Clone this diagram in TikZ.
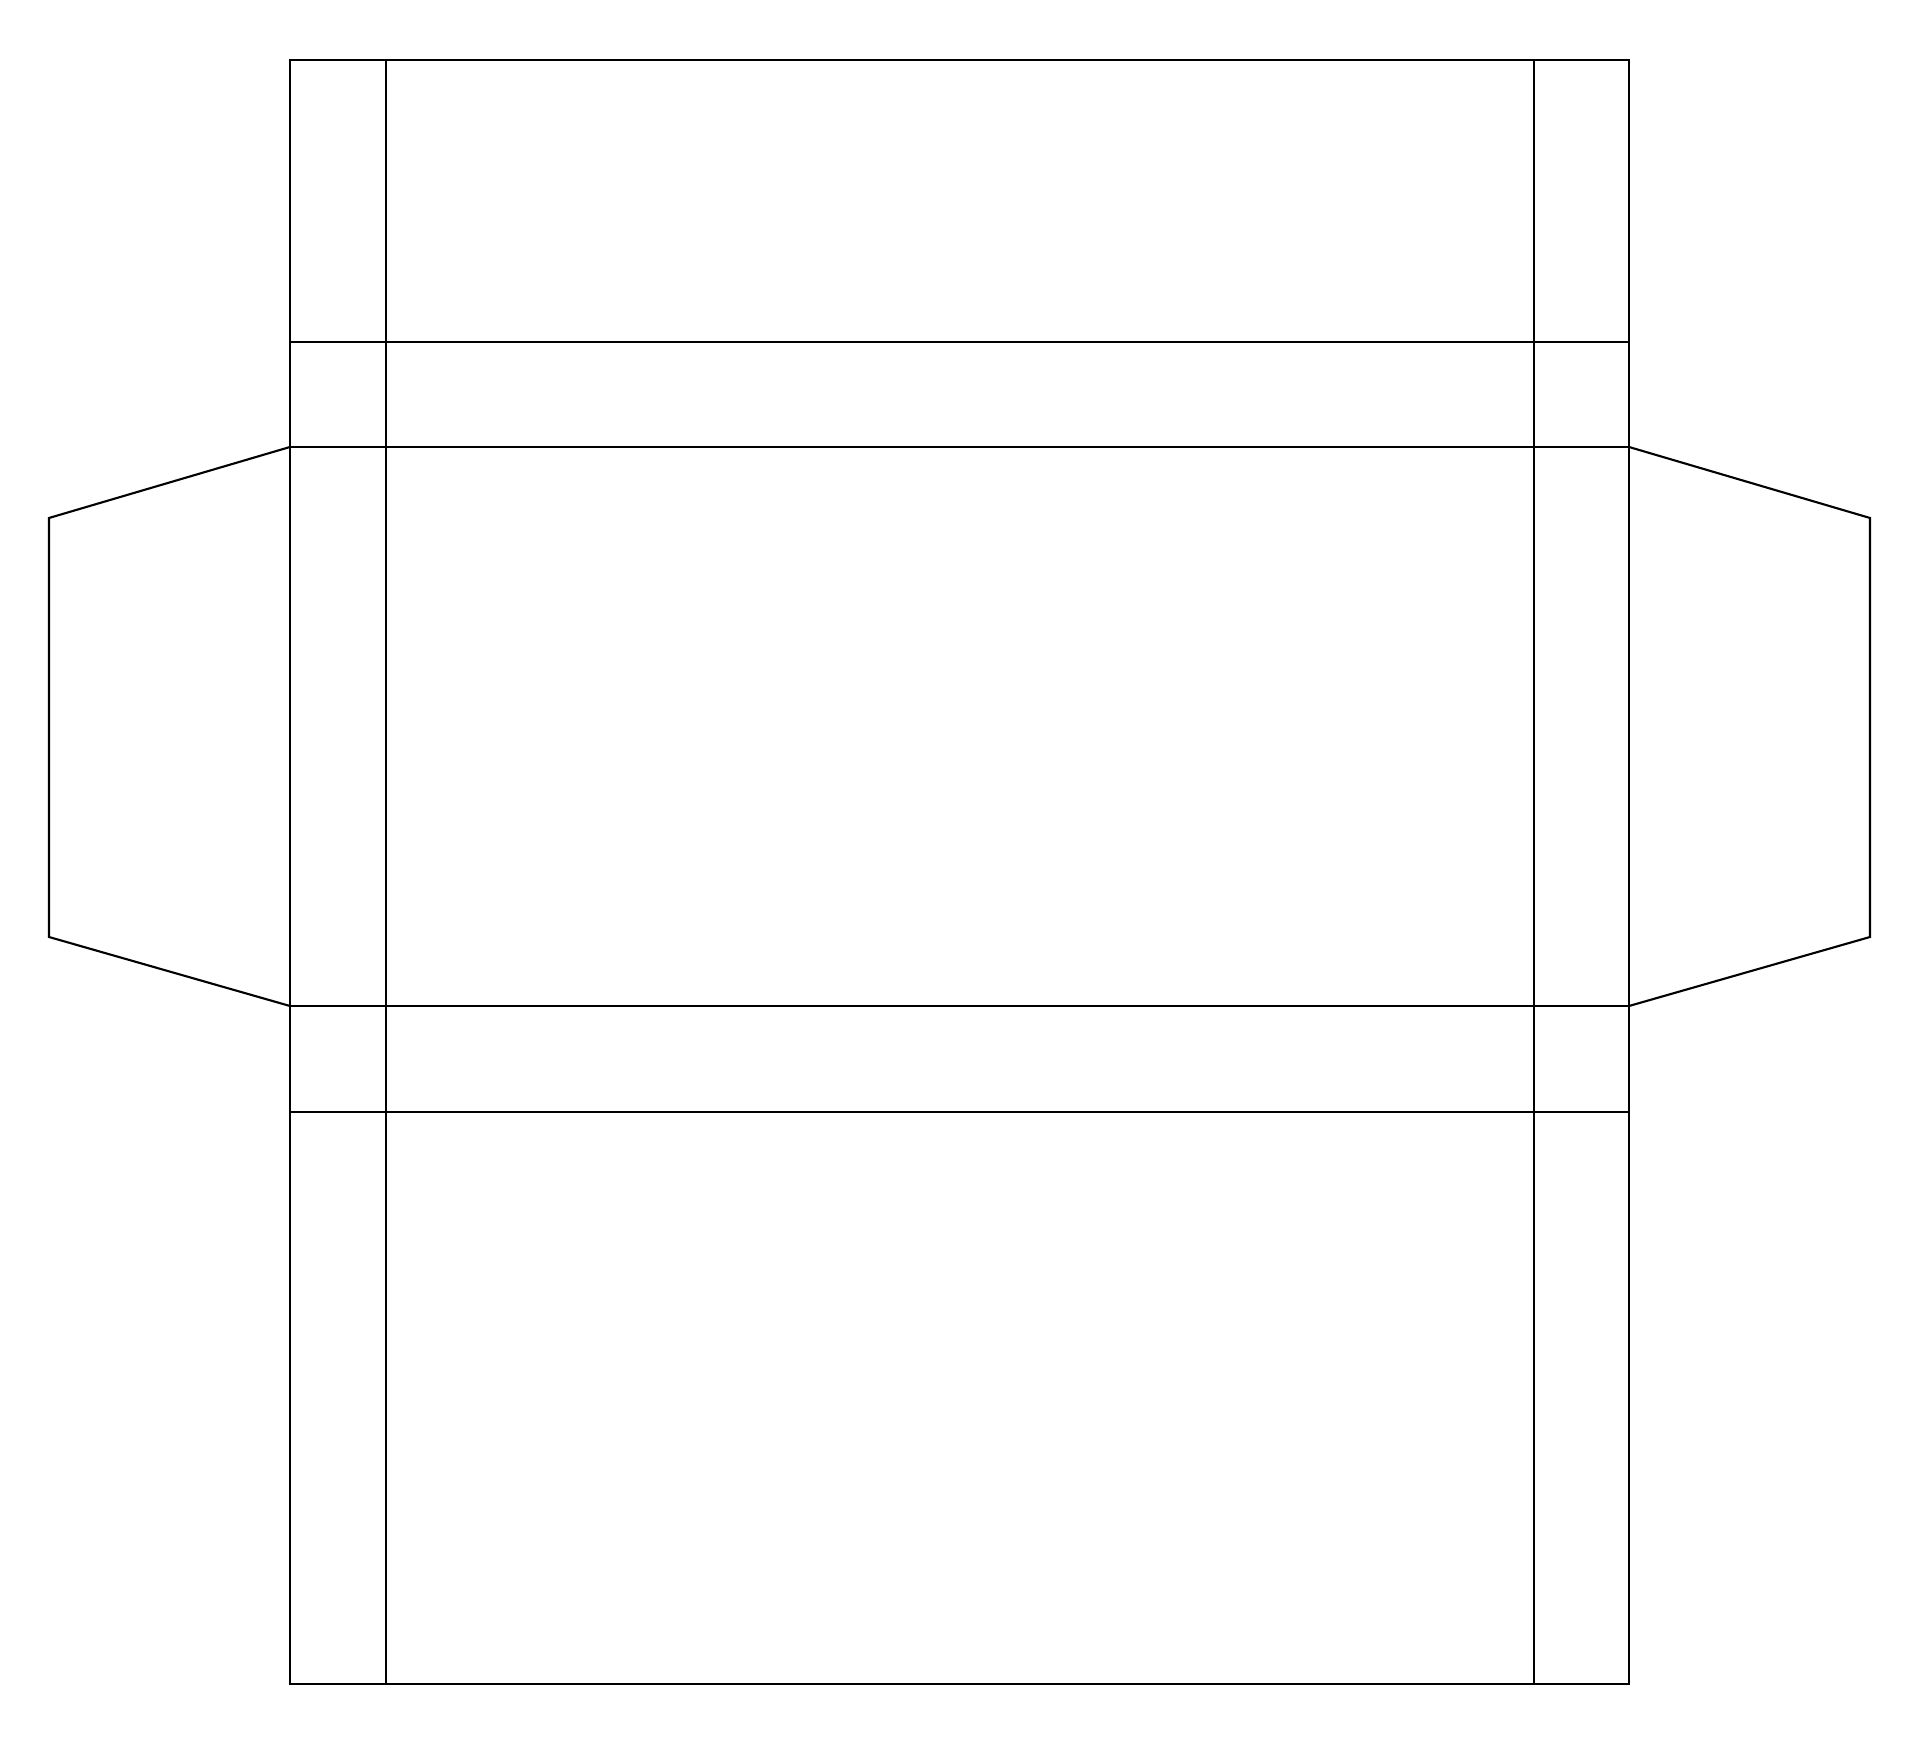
\documentclass[tikz,border=0pt]{standalone}
\usepackage{tikz}
\tikzset{cut/.style={line width=0.6pt, line join=miter}, fold/.style={line width=0.5pt}}
\begin{document}
\begin{tikzpicture}
\useasboundingbox (0,0) rectangle (19.2,17.46);
\coordinate (bl) at (2.90,0.62);
\coordinate (tr) at (16.29,16.86);
\draw[cut] (bl) rectangle (tr);
\draw[fold] (3.86,0.62) -- (3.86,16.86);
\draw[fold] (15.34,0.62) -- (15.34,16.86);
\foreach \y in {14.04,12.99,7.40,6.34}
  \draw[fold] (2.90,\y) -- (16.29,\y);
% side flaps
\draw[cut] (2.90,12.99) -- (0.49,12.28) -- (0.49,8.09) -- (2.90,7.40);
\draw[cut] (16.29,12.99) -- (18.70,12.28) -- (18.70,8.09) -- (16.29,7.40);

\end{tikzpicture}
\end{document}
